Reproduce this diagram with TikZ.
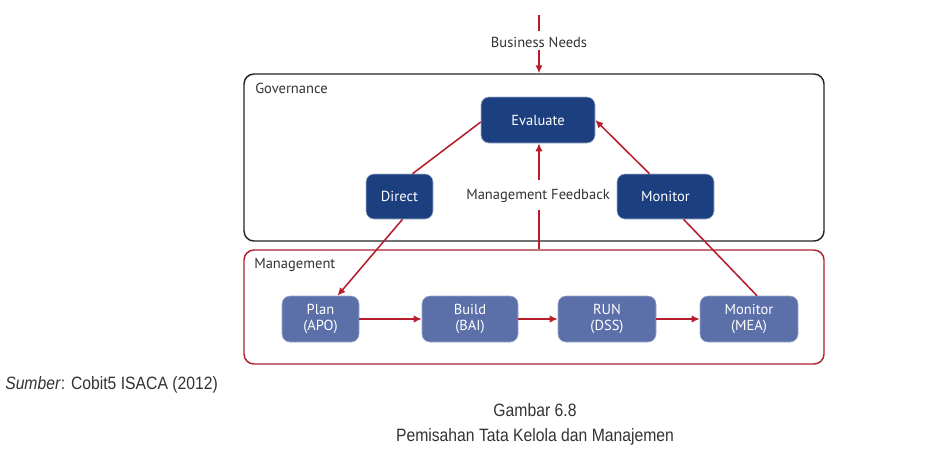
\documentclass[tikz,border=0pt]{standalone}
\usepackage{fontspec}
\setmainfont{PT Sans}
\newfontfamily\capfont[FakeStretch=0.88]{Liberation Sans}
\usetikzlibrary{arrows.meta,calc}
\definecolor{dblue}{HTML}{1C3F7F}
\definecolor{lblue}{HTML}{5B6FA9}
\definecolor{ared}{HTML}{B51C2C}
\definecolor{bred}{HTML}{AC2430}
\definecolor{txt}{HTML}{333333}
\tikzset{
  govbox/.style={draw=dblue!40, fill=dblue, rounded corners=6pt, text=white, font=\fontsize{10.9}{12.5}\selectfont, inner sep=0pt},
  mgbox/.style={draw=lblue!60, fill=lblue, rounded corners=6pt, text=white, font=\fontsize{10.9}{12.5}\selectfont, inner sep=0pt, align=center},
  frame/.style={rounded corners=7.5pt, line width=1.1pt, inner sep=0pt},
  lbl/.style={text=txt, font=\fontsize{10.9}{12.5}\selectfont},
  conn/.style={draw=ared, line width=1.15pt},
  arr/.style={conn, -{Latex[length=6pt,width=5.5pt]}},
  captxt/.style={text=txt, font=\capfont\fontsize{13.4}{15}\selectfont}
}
\begin{document}
\begin{tikzpicture}[x=0.75pt,y=-0.75pt]
\useasboundingbox[fill=white] (0,0) rectangle (927,458);
% frames
\node[frame, draw=black!85, minimum width=435pt, minimum height=125.25pt] (gov) at (534,157.5) {};
\node[frame, draw=bred, minimum width=435pt, minimum height=85.5pt] (mgmt) at (534,307) {};
\node[lbl, anchor=west, inner sep=0pt] (govl) at (255,88) {Governance};
\node[lbl, anchor=west, inner sep=0pt] (mgl) at (254,265) {Management};
% governance nodes
\node[govbox, minimum width=85.5pt, minimum height=34.5pt] (eval) at (538,120) {Evaluate};
\node[govbox, minimum width=50.25pt, minimum height=33.75pt] (dir) at (399.5,196.5) {Direct};
\node[govbox, minimum width=72.75pt, minimum height=33.75pt] (mon) at (665.5,196.5) {Monitor};
% management nodes
\node[mgbox, minimum width=57.75pt, minimum height=34.5pt] (plan) at (320.5,319) {Plan\\(APO)};
\node[mgbox, minimum width=72pt, minimum height=34.5pt] (build) at (470,319) {Build\\(BAI)};
\node[mgbox, minimum width=73.5pt, minimum height=34.5pt] (run) at (607,319) {RUN\\(DSS)};
\node[mgbox, minimum width=73.5pt, minimum height=34.5pt] (mea) at (749,319) {Monitor\\(MEA)};
% business needs
\coordinate (bntop) at (539,15);
\node[lbl, inner sep=2pt] (bn) at (539,42) {Business Needs};
\draw[conn] (bntop) -- ($(bn.north)+(0,-3)$);
\draw[arr] (bn.south) -- (bn.south |- gov.north);
% management feedback
\node[lbl, inner sep=2pt] (mf) at (538,196) {Management Feedback};
\coordinate (mfb) at ($(mf.south -| 539,0)+(0,4)$);
\coordinate (mft) at ($(mf.north -| 539,0)+(0,-6)$);
\draw[conn] (mfb |- mgmt.north) -- (mfb);
\draw[arr] (mft) -- (mft |- eval.south);
% governance connectors
\draw[conn] ($(dir.north)+(13,0)$) -- ($(eval.west)+(0,2)$);
\draw[arr] ($(mon.north)+(-16,0)$) -- (eval.east);
\draw[arr] ($(dir.south)+(3,0)$) -- ($(plan.north)+(17,0)$);
\draw[conn] ($(mea.north)+(8,0)$) -- ($(mon.south)+(18,0)$);
% management chain
\draw[arr] (plan) -- (build);
\draw[arr] (build) -- (run);
\draw[arr] (run) -- (mea);
% captions
\node[captxt, anchor=west, inner sep=0pt] (src) at (5,385) {\textit{Sumber}: Cobit5 ISACA (2012)};
\node[captxt, inner sep=0pt] (fig) at (535,410) {Gambar 6.8};
\node[captxt, inner sep=0pt] (title) at (535,437) {Pemisahan Tata Kelola dan Manajemen};
\end{tikzpicture}
\end{document}
